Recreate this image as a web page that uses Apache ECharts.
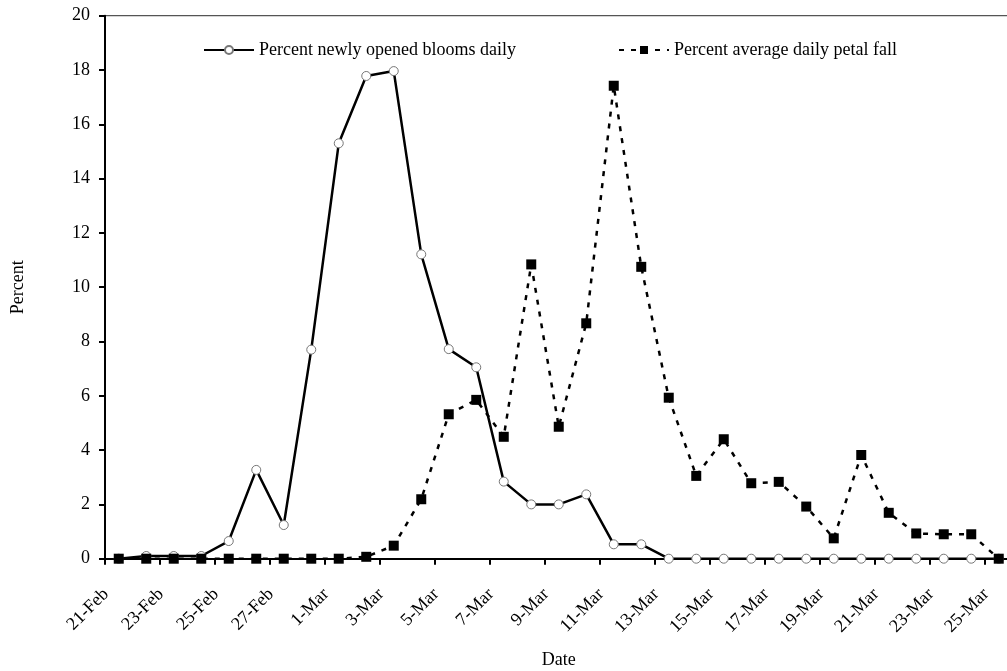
<!DOCTYPE html>
<html>
<head>
<meta charset="utf-8">
<script src="https://cdn.jsdelivr.net/npm/echarts@6/dist/echarts.min.js"></script>
<style>
html,body{margin:0;padding:0;background:#fff;}
#chart{width:1007px;height:671px;}
</style>
</head>
<body>
<div id="chart"></div>
<script>
var categories = ["21-Feb","22-Feb","23-Feb","24-Feb","25-Feb","26-Feb","27-Feb","28-Feb",
  "1-Mar","2-Mar","3-Mar","4-Mar","5-Mar","6-Mar","7-Mar","8-Mar","9-Mar","10-Mar",
  "11-Mar","12-Mar","13-Mar","14-Mar","15-Mar","16-Mar","17-Mar","18-Mar","19-Mar",
  "20-Mar","21-Mar","22-Mar","23-Mar","24-Mar","25-Mar"];
var bloomName = "Percent newly opened blooms daily";
var petalName = "Percent average daily petal fall";
var bloomValues = [0, 0.1, 0.1, 0.1, 0.65, 3.27, 1.24, 7.7, 15.3, 17.78, 17.96, 11.21, 7.72, 7.05,
  2.84, 2.0, 2.0, 2.37, 0.53, 0.53, 0, 0, 0, 0, 0, 0, 0, 0, 0, 0, 0, 0, 0];
var petalValues = [0, 0, 0, 0, 0, 0, 0, 0, 0, 0.07, 0.48, 2.19, 5.32, 5.85, 4.49, 10.84, 4.86, 8.67,
  17.42, 10.75, 5.93, 3.05, 4.4, 2.78, 2.83, 1.92, 0.75, 3.82, 1.69, 0.93, 0.9, 0.9, 0];
var yTicks = {min: 0, max: 20, interval: 2};

var font = "'Liberation Serif', 'Times New Roman', serif";
var chart = echarts.init(document.getElementById('chart'), null, {renderer: 'canvas'});
chart.setOption({
  animation: false,
  backgroundColor: '#fff',
  textStyle: {fontFamily: font, color: '#000'},
  grid: {
    left: 105, top: 15.7, width: 907.5, height: 543,
    containLabel: false, outerBoundsMode: 'none',
    show: true, borderColor: '#555', borderWidth: 1.3, backgroundColor: 'transparent'
  },
  legend: [{
    data: [bloomName], left: 203, top: 41, padding: 0, itemWidth: 50, itemHeight: 10, itemGap: 0,
    itemTextGap: 5,
    textStyle: {fontFamily: font, fontSize: 18, color: '#000'}
  }, {
    data: [petalName], left: 618, top: 41, padding: 0, itemWidth: 50, itemHeight: 10, itemGap: 0,
    itemTextGap: 5,
    textStyle: {fontFamily: font, fontSize: 18, color: '#000'}
  }],
  xAxis: {
    type: 'category',
    data: categories,
    boundaryGap: true,
    name: 'Date',
    nameLocation: 'middle',
    nameGap: 93,
    nameTextStyle: {fontFamily: font, fontSize: 18, color: '#000'},
    axisLine: {show: true, lineStyle: {color: '#000', width: 2}},
    axisTick: {show: true, interval: 1, alignWithLabel: false, length: 6, lineStyle: {color: '#000', width: 2}},
    axisLabel: {interval: 1, rotate: 45, margin: 20, padding: [0, 18, 0, 0], fontFamily: font, fontSize: 18, color: '#000'},
    splitLine: {show: false}
  },
  yAxis: {
    type: 'value',
    min: yTicks.min, max: yTicks.max, interval: yTicks.interval,
    name: 'Percent',
    nameLocation: 'middle',
    nameGap: 78,
    nameRotate: 90,
    nameTextStyle: {fontFamily: font, fontSize: 18, color: '#000'},
    axisLine: {show: true, lineStyle: {color: '#000', width: 2}},
    axisTick: {show: true, inside: false, length: 6, lineStyle: {color: '#000', width: 2}},
    axisLabel: {margin: 15, fontFamily: font, fontSize: 18, color: '#000'},
    splitLine: {show: false}
  },
  series: [{
    name: bloomName,
    type: 'line',
    data: bloomValues,
    symbol: 'circle',
    symbolSize: 9,
    showAllSymbol: true,
    lineStyle: {color: '#000', width: 2.5, type: 'solid'},
    itemStyle: {color: '#fff', borderColor: '#777', borderWidth: 1},
    z: 2
  }, {
    name: petalName,
    type: 'line',
    data: petalValues,
    symbol: 'rect',
    symbolSize: 10,
    showAllSymbol: true,
    lineStyle: {color: '#000', width: 2.5, type: [5, 7]},
    itemStyle: {color: '#000', borderColor: '#000', borderWidth: 0},
    z: 3
  }]
});
</script>
</body>
</html>
